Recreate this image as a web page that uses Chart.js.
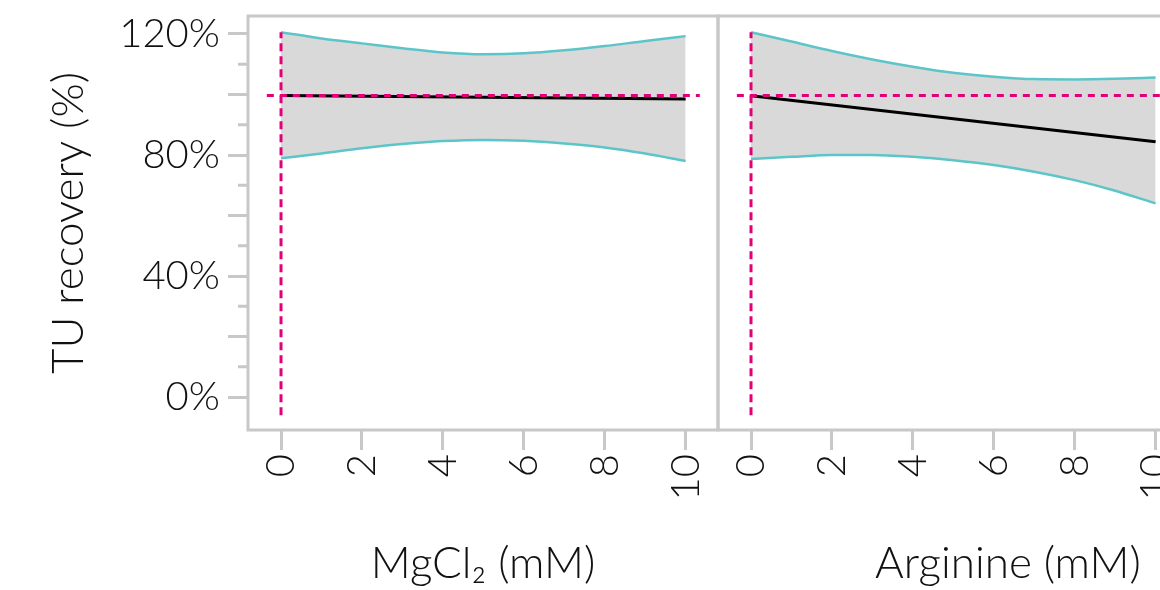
<!DOCTYPE html>
<html>
<head>
<meta charset="utf-8">
<script src="https://cdn.jsdelivr.net/npm/chart.js@4.4.1/dist/chart.umd.min.js"></script>
<style>
    body { margin: 0; width: 1160px; height: 590px; overflow: hidden; background: #fff; position: relative; }
    canvas { position: absolute; top: 0; }
    #graficoMg { left: 0; }
    #graficoArg { left: 716px; }
</style>
</head>
<body>
<canvas id="graficoMg" width="720" height="590"></canvas>
<canvas id="graficoArg" width="584" height="590"></canvas>
<script>
var xCurva = [0, 1, 2, 3, 4, 5, 6, 7, 8, 9, 10];
var xReta = [0, 10];

var mgSuperior = [120.6, 118.5, 116.9, 115.3, 113.9, 113.3, 113.6, 114.6, 116.0, 117.7, 119.3];
var mgInferior = [78.9, 80.5, 82.2, 83.6, 84.6, 85.0, 84.7, 83.8, 82.5, 80.5, 78.0];
var mgPrevisto = [99.7, 98.5];

var argSuperior = [120.6, 117.5, 114.4, 111.6, 109.2, 107.2, 105.9, 105.1, 105.0, 105.2, 105.6];
var argInferior = [78.7, 79.4, 80.0, 80.0, 79.4, 78.3, 76.7, 74.5, 71.7, 68.2, 64.0];
var argPrevisto = [99.6, 84.4];

var valorAtual = 99.7;        // linha rosa horizontal
var xAtual = 0;               // linha rosa vertical
var linhaH = [-0.35, 10.35];  // extensão da linha horizontal
var linhaV = [-6, 120.6];     // extensão da linha vertical

var xTicks = [0, 2, 4, 6, 8, 10];
var yTicks = [0, 20, 40, 60, 80, 100, 120];
var yTicksMenores = [10, 30, 50, 70, 90, 110];
var yRotulos = [0, 40, 80, 120];

var fonte = 'Lato, "Open Sans", sans-serif';
var cinza = '#c8c8c8';
var rosa = '#e2007a';
var ciano = '#5cc5c9';

function pontos(xs, ys) {
    return xs.map(function (x, i) { return { x: x, y: ys[i] }; });
}

var moldura = {
    id: 'moldura',
    afterDraw(chart) {
        var ctx = chart.ctx;
        var a = chart.chartArea;
        ctx.save();
        ctx.strokeStyle = cinza;
        ctx.lineWidth = 3;
        ctx.strokeRect(a.left, a.top, a.right - a.left, a.bottom - a.top);
        if (chart.options.scales.y.display) {
            // ticks menores do eixo y
            ctx.beginPath();
            yTicksMenores.forEach(function (v) {
                var py = chart.scales.y.getPixelForValue(v);
                ctx.moveTo(a.left - 10, py);
                ctx.lineTo(a.left, py);
            });
            ctx.stroke();
        }
        ctx.restore();
    }
};

function criarGrafico(canvas, superior, inferior, previsto, tituloX, xMax, comEixoY, padding) {
    return new Chart(canvas, {
        type: 'line',
        data: {
            datasets: [
                {
                    data: pontos(xCurva, superior),
                    borderColor: ciano,
                    borderWidth: 2.5,
                    backgroundColor: '#d9d9d9',
                    fill: '+1',
                    pointRadius: 0,
                    cubicInterpolationMode: 'monotone',
                    order: 5
                },
                {
                    data: pontos(xCurva, inferior),
                    borderColor: ciano,
                    borderWidth: 2.5,
                    fill: false,
                    pointRadius: 0,
                    cubicInterpolationMode: 'monotone',
                    order: 4
                },
                {
                    data: pontos(xReta, previsto),
                    borderColor: '#000',
                    borderWidth: 3,
                    fill: false,
                    pointRadius: 0,
                    order: 3
                },
                {
                    data: [{ x: linhaH[0], y: valorAtual }, { x: linhaH[1], y: valorAtual }],
                    borderColor: rosa,
                    borderWidth: 3,
                    borderDash: [7, 6],
                    fill: false,
                    pointRadius: 0,
                    order: 2
                },
                {
                    data: [{ x: xAtual, y: linhaV[0] }, { x: xAtual, y: linhaV[1] }],
                    borderColor: rosa,
                    borderWidth: 3,
                    borderDash: [8, 5],
                    fill: false,
                    pointRadius: 0,
                    order: 1
                }
            ]
        },
        options: {
            responsive: false,
            animation: false,
            layout: { padding: padding },
            plugins: {
                legend: { display: false },
                tooltip: { enabled: false }
            },
            scales: {
                x: {
                    type: 'linear',
                    min: -0.816,
                    max: xMax,
                    afterBuildTicks: function (s) { s.ticks = xTicks.map(function (v) { return { value: v }; }); },
                    afterFit: function (s) {
                        s.height = 160;
                        s.paddingLeft = 0;
                        s.paddingRight = 0;
                    },
                    border: { display: false },
                    grid: { drawOnChartArea: false, tickLength: 20, tickWidth: 3, tickColor: cinza },
                    ticks: {
                        autoSkip: false,
                        minRotation: 90,
                        maxRotation: 90,
                        padding: 4,
                        color: '#111',
                        font: { family: fonte, size: 40, weight: 300 }
                    },
                    title: {
                        display: true,
                        text: tituloX,
                        color: '#111',
                        padding: { top: 0, bottom: 0 },
                        font: { family: fonte, size: 44, weight: 300 }
                    }
                },
                y: {
                    display: comEixoY,
                    min: -10.9,
                    max: 125.95,
                    afterBuildTicks: function (s) { s.ticks = yTicks.map(function (v) { return { value: v }; }); },
                    afterFit: function (s) {
                        s.width = comEixoY ? 248 : 0;
                        s.paddingTop = 0;
                        s.paddingBottom = 0;
                    },
                    border: { display: false },
                    grid: { drawOnChartArea: false, tickLength: 20, tickWidth: 3, tickColor: cinza },
                    ticks: {
                        padding: 8,
                        color: '#111',
                        font: { family: fonte, size: 40, weight: 300 },
                        callback: function (v) { return yRotulos.includes(v) ? v + '%' : ''; }
                    },
                    title: {
                        display: true,
                        text: 'TU recovery (%)',
                        color: '#111',
                        padding: { top: 42, bottom: 0 },
                        font: { family: fonte, size: 44, weight: 300 }
                    }
                }
            }
        },
        plugins: [moldura]
    });
}

var graficoMg = criarGrafico(document.getElementById('graficoMg'), mgSuperior, mgInferior, mgPrevisto,
    'MgCl\u2082 (mM)', 10.80, true, { top: 16, right: 2, left: 0, bottom: 0 });
var graficoArg = criarGrafico(document.getElementById('graficoArg'), argSuperior, argInferior, argPrevisto,
    'Arginine (mM)', 13.52, false, { top: 16, right: 2, left: 2, bottom: 0 });
</script>
</body>
</html>
